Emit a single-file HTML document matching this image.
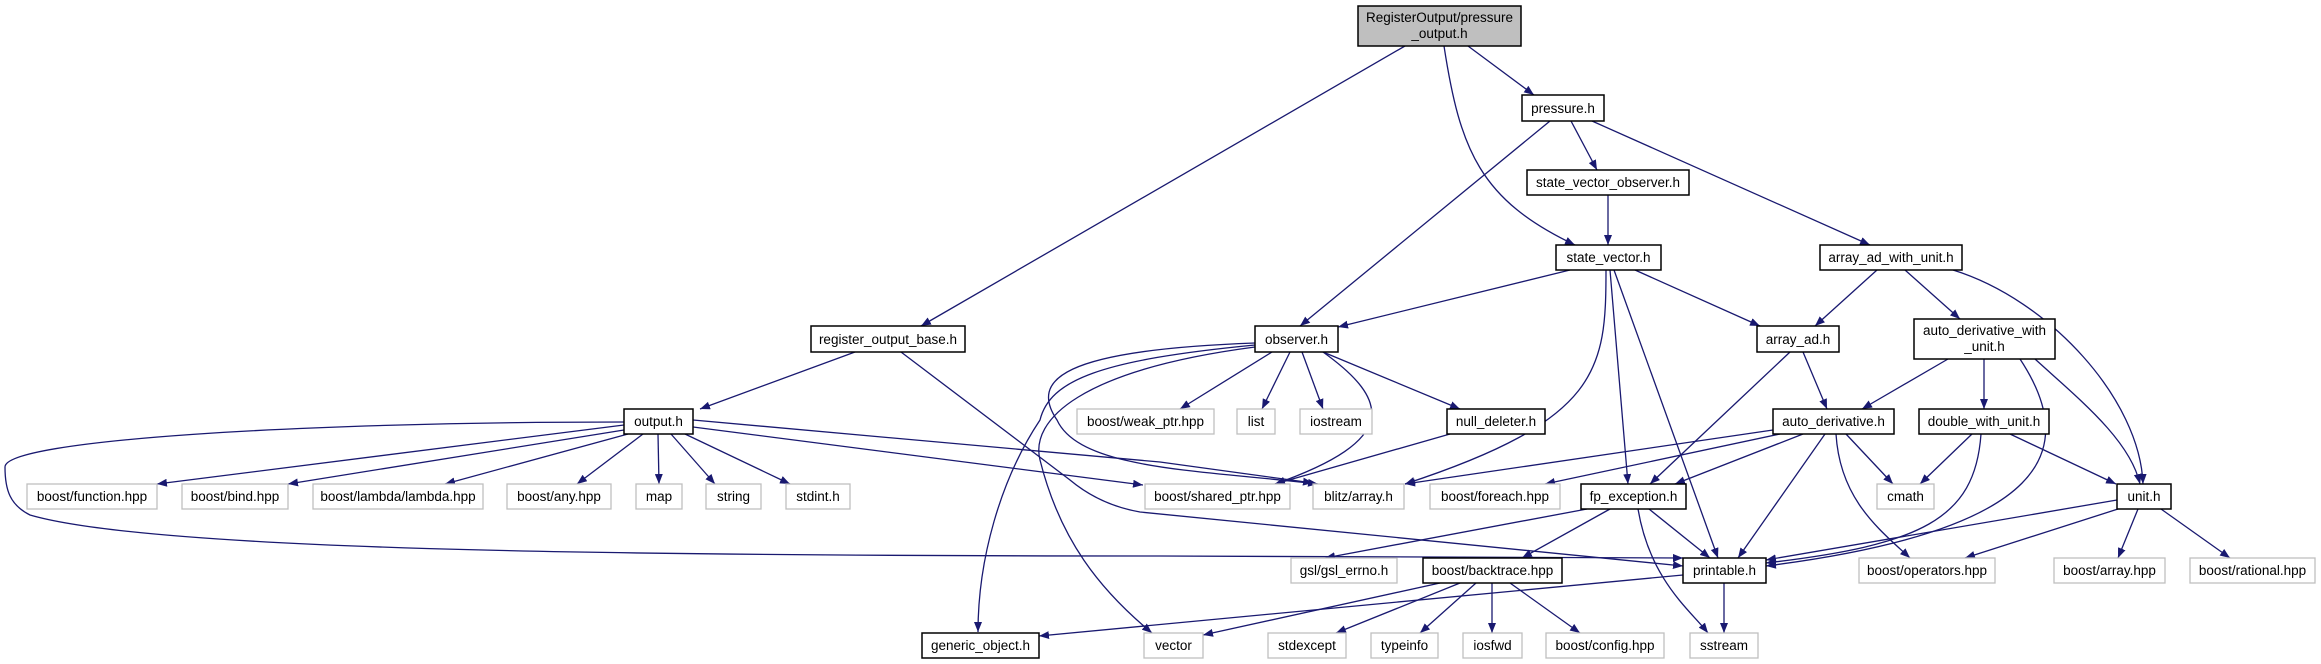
<!DOCTYPE html>
<html><head><meta charset="utf-8"><style>
html,body{margin:0;padding:0;background:#fff;}
svg{display:block;}
text{font-family:"Liberation Sans",Arial,sans-serif;font-size:13.5px;fill:#000;text-anchor:middle;}
.e{fill:none;stroke:#191970;stroke-width:1.3;marker-end:url(#a);}
.b{fill:#fff;stroke:#000;stroke-width:1.5;}
.g{fill:#fff;stroke:#bfbfbf;stroke-width:1.3;}
</style></head><body>
<svg width="2321" height="664" viewBox="0 0 2321 664" xmlns="http://www.w3.org/2000/svg">
<defs><marker id="a" markerUnits="userSpaceOnUse" markerWidth="11" markerHeight="8" refX="10" refY="4" orient="auto"><path d="M0,0 L10,4 L0,8 z" fill="#191970"/></marker></defs>
<g>
<path class="e" d="M1405,46 L921,326"/>
<path class="e" d="M1468,46 L1534,95"/>
<path class="e" d="M1444,46 C1460,150 1480,200 1575,245"/>
<path class="e" d="M1550,121 L1300,326"/>
<path class="e" d="M1571,121 L1597,170"/>
<path class="e" d="M1592,121 L1870,245"/>
<path class="e" d="M1608,195 L1608,245"/>
<path class="e" d="M1570,270 L1338,327"/>
<path class="e" d="M1635,270 L1760,326"/>
<path class="e" d="M1610,270 L1628,484"/>
<path class="e" d="M1614,270 L1718,558"/>
<path class="e" d="M1606,270 C1606,370 1600,420 1405,484"/>
<path class="e" d="M1877,270 L1815,326"/>
<path class="e" d="M1905,270 L1960,319"/>
<path class="e" d="M1953,270 C2050,300 2140,400 2143,484"/>
<path class="e" d="M855,352 L700,409"/>
<path class="e" d="M901,352 L1070,480 Q1100,505 1140,512 L1683,566"/>
<path class="e" d="M624,425 L157,484"/>
<path class="e" d="M624,430 L288,484"/>
<path class="e" d="M628,434 L445,484"/>
<path class="e" d="M643,434 L577,484"/>
<path class="e" d="M658,434 L659,484"/>
<path class="e" d="M671,434 L715,484"/>
<path class="e" d="M685,434 L790,484"/>
<path class="e" d="M693,427 L1143,485"/>
<path class="e" d="M693,420 L1160,462 L1313,483"/>
<path class="e" d="M624,422 C300,422 5,440 5,467 C5,490 10,505 30,515 C150,550 600,556 1160,556 L1683,558"/>
<path class="e" d="M1272,352 L1180,409"/>
<path class="e" d="M1290,352 L1262,409"/>
<path class="e" d="M1302,352 L1323,409"/>
<path class="e" d="M1323,352 L1460,409"/>
<path class="e" d="M1323,352 C1390,400 1400,440 1275,484"/>
<path class="e" d="M1255,343 C1060,350 1030,380 1057,420 C1080,470 1200,470 1318,484"/>
<path class="e" d="M1255,345 C1100,360 1050,380 1040,420 C1000,480 978,560 978,632"/>
<path class="e" d="M1255,347 C1080,370 1030,420 1040,460 C1060,540 1100,590 1152,633"/>
<path class="e" d="M1450,434 L1275,484"/>
<path class="e" d="M1803,352 L1827,409"/>
<path class="e" d="M1790,352 L1650,484"/>
<path class="e" d="M1948,359 L1862,409"/>
<path class="e" d="M1984,359 L1984,409"/>
<path class="e" d="M2035,359 C2080,400 2130,440 2140,484"/>
<path class="e" d="M2020,359 C2080,450 2050,530 1766,566"/>
<path class="e" d="M1773,430 L1405,484"/>
<path class="e" d="M1780,434 L1545,484"/>
<path class="e" d="M1803,434 L1675,484"/>
<path class="e" d="M1825,434 L1738,558"/>
<path class="e" d="M1846,434 L1893,484"/>
<path class="e" d="M1836,434 C1840,500 1880,530 1910,558"/>
<path class="e" d="M1972,434 L1920,484"/>
<path class="e" d="M2010,434 L2116,484"/>
<path class="e" d="M1981,434 C1975,520 1920,545 1766,563"/>
<path class="e" d="M2117,500 L1766,560"/>
<path class="e" d="M2118,509 L1965,558"/>
<path class="e" d="M2138,509 L2118,558"/>
<path class="e" d="M2161,509 L2230,558"/>
<path class="e" d="M1587,509 L1325,558"/>
<path class="e" d="M1610,509 L1522,558"/>
<path class="e" d="M1649,509 L1710,558"/>
<path class="e" d="M1638,509 C1650,580 1690,610 1708,633"/>
<path class="e" d="M1683,575 L1039,636"/>
<path class="e" d="M1724,583 L1724,633"/>
<path class="e" d="M1440,583 L1203,635"/>
<path class="e" d="M1460,583 L1336,633"/>
<path class="e" d="M1476,583 L1420,633"/>
<path class="e" d="M1492,583 L1492,633"/>
<path class="e" d="M1510,583 L1580,633"/>
</g>
<g>
<rect x="1358" y="6" width="163" height="40" fill="#bfbfbf" stroke="#000" stroke-width="1.5"/>
<text x="1439.5" y="22">RegisterOutput/pressure</text><text x="1439.5" y="38">_output.h</text>
<rect class="b" x="1522" y="95" width="82" height="26"/><text x="1563" y="113">pressure.h</text>
<rect class="b" x="1527" y="170" width="162" height="25"/><text x="1608" y="187">state_vector_observer.h</text>
<rect class="b" x="1556" y="245" width="105" height="25"/><text x="1608.5" y="262">state_vector.h</text>
<rect class="b" x="1820" y="245" width="142" height="25"/><text x="1891" y="262">array_ad_with_unit.h</text>
<rect class="b" x="811" y="326" width="154" height="26"/><text x="888" y="344">register_output_base.h</text>
<rect class="b" x="1255" y="326" width="83" height="26"/><text x="1296.5" y="344">observer.h</text>
<rect class="b" x="1757" y="326" width="82" height="26"/><text x="1798" y="344">array_ad.h</text>
<rect class="b" x="1914" y="319" width="141" height="40"/><text x="1984.5" y="335">auto_derivative_with</text><text x="1984.5" y="351">_unit.h</text>
<rect class="b" x="624" y="409" width="69" height="25"/><text x="658.5" y="426">output.h</text>
<rect class="g" x="1077" y="409" width="137" height="25"/><text x="1145.5" y="426">boost/weak_ptr.hpp</text>
<rect class="g" x="1237" y="409" width="38" height="25"/><text x="1256" y="426">list</text>
<rect class="g" x="1300" y="409" width="72" height="25"/><text x="1336" y="426">iostream</text>
<rect class="b" x="1447" y="409" width="98" height="25"/><text x="1496" y="426">null_deleter.h</text>
<rect class="b" x="1773" y="409" width="121" height="25"/><text x="1833.5" y="426">auto_derivative.h</text>
<rect class="b" x="1919" y="409" width="130" height="25"/><text x="1984" y="426">double_with_unit.h</text>
<rect class="g" x="27" y="484" width="130" height="25"/><text x="92" y="501">boost/function.hpp</text>
<rect class="g" x="182" y="484" width="106" height="25"/><text x="235" y="501">boost/bind.hpp</text>
<rect class="g" x="313" y="484" width="170" height="25"/><text x="398" y="501">boost/lambda/lambda.hpp</text>
<rect class="g" x="507" y="484" width="104" height="25"/><text x="559" y="501">boost/any.hpp</text>
<rect class="g" x="636" y="484" width="46" height="25"/><text x="659" y="501">map</text>
<rect class="g" x="706" y="484" width="55" height="25"/><text x="733.5" y="501">string</text>
<rect class="g" x="786" y="484" width="64" height="25"/><text x="818" y="501">stdint.h</text>
<rect class="g" x="1145" y="484" width="145" height="25"/><text x="1217.5" y="501">boost/shared_ptr.hpp</text>
<rect class="g" x="1313" y="484" width="91" height="25"/><text x="1358.5" y="501">blitz/array.h</text>
<rect class="g" x="1430" y="484" width="130" height="25"/><text x="1495" y="501">boost/foreach.hpp</text>
<rect class="b" x="1581" y="484" width="105" height="25"/><text x="1633.5" y="501">fp_exception.h</text>
<rect class="g" x="1877" y="484" width="57" height="25"/><text x="1905.5" y="501">cmath</text>
<rect class="b" x="2117" y="484" width="54" height="25"/><text x="2144" y="501">unit.h</text>
<rect class="g" x="1291" y="558" width="106" height="25"/><text x="1344" y="575">gsl/gsl_errno.h</text>
<rect class="b" x="1423" y="558" width="139" height="25"/><text x="1492.5" y="575">boost/backtrace.hpp</text>
<rect class="b" x="1683" y="558" width="83" height="25"/><text x="1724.5" y="575">printable.h</text>
<rect class="g" x="1859" y="558" width="136" height="25"/><text x="1927" y="575">boost/operators.hpp</text>
<rect class="g" x="2054" y="558" width="111" height="25"/><text x="2109.5" y="575">boost/array.hpp</text>
<rect class="g" x="2190" y="558" width="125" height="25"/><text x="2252.5" y="575">boost/rational.hpp</text>
<rect class="b" x="922" y="633" width="117" height="25"/><text x="980.5" y="650">generic_object.h</text>
<rect class="g" x="1144" y="633" width="59" height="25"/><text x="1173.5" y="650">vector</text>
<rect class="g" x="1268" y="633" width="78" height="25"/><text x="1307" y="650">stdexcept</text>
<rect class="g" x="1371" y="633" width="67" height="25"/><text x="1404.5" y="650">typeinfo</text>
<rect class="g" x="1463" y="633" width="59" height="25"/><text x="1492.5" y="650">iosfwd</text>
<rect class="g" x="1546" y="633" width="118" height="25"/><text x="1605" y="650">boost/config.hpp</text>
<rect class="g" x="1690" y="633" width="68" height="25"/><text x="1724" y="650">sstream</text>
</g>
</svg>
</body></html>
